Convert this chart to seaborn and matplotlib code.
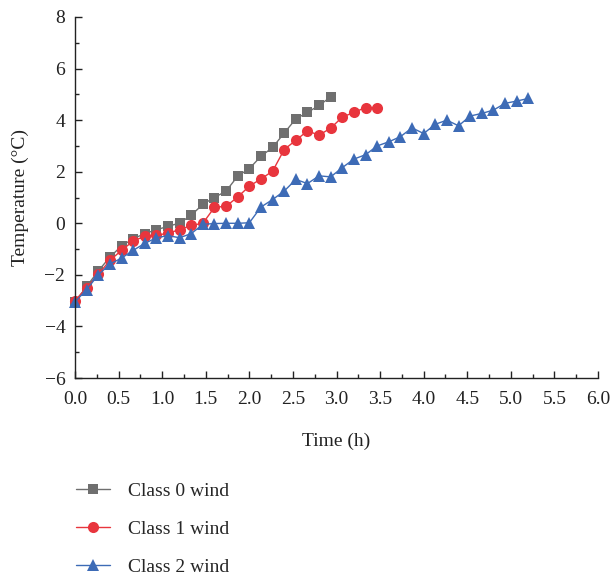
import matplotlib
matplotlib.use("Agg")
import matplotlib.pyplot as plt
from matplotlib.ticker import MultipleLocator, FuncFormatter
import seaborn as sns
import pandas as pd

# Sampling times in minutes (8-min interval) for each wind class
minutes_class0 = [0, 8, 16, 24, 32, 40, 48, 56, 64, 72, 80, 88, 96, 104, 112,
                  120, 128, 136, 144, 152, 160, 168, 176]
minutes_class1 = [0, 8, 16, 24, 32, 40, 48, 56, 64, 72, 80, 88, 96, 104, 112,
                  120, 128, 136, 144, 152, 160, 168, 176, 184, 192, 200, 208]
minutes_class2 = [0, 8, 16, 24, 32, 40, 48, 56, 64, 72, 80, 88, 96, 104, 112,
                  120, 128, 136, 144, 152, 160, 168, 176, 184, 192, 200, 208,
                  216, 224, 232, 240, 248, 256, 264, 272, 280, 288, 296, 304, 312]

# Temperature (°C)
temp_class0 = [-3.05, -2.45, -1.85, -1.31, -0.88, -0.60, -0.40, -0.25, -0.12, 0.01,
               0.31, 0.74, 1.00, 1.25, 1.83, 2.12, 2.60, 2.94, 3.50, 4.05, 4.30,
               4.57, 4.90]
temp_class1 = [-3.00, -2.50, -1.98, -1.44, -1.05, -0.69, -0.50, -0.47, -0.38, -0.25,
               -0.08, 0.00, 0.62, 0.66, 1.02, 1.44, 1.72, 2.02, 2.86, 3.22, 3.58,
               3.42, 3.69, 4.12, 4.30, 4.49, 4.49]
temp_class2 = [-3.05, -2.57, -2.00, -1.58, -1.35, -1.05, -0.78, -0.56, -0.48, -0.56,
               -0.40, -0.04, -0.01, 0.00, 0.00, 0.02, 0.63, 0.92, 1.25, 1.70, 1.54,
               1.84, 1.80, 2.16, 2.49, 2.66, 3.00, 3.16, 3.36, 3.70, 3.48, 3.84,
               4.00, 3.78, 4.16, 4.26, 4.39, 4.65, 4.74, 4.84]

labels = ["Class 0 wind", "Class 1 wind", "Class 2 wind"]
colors = ["#6f6f6f", "#e8353d", "#3d6bb6"]
markers = ["s", "o", "^"]
msizes = [6.5, 8, 8.5]

sns.set_theme(style="ticks")
plt.rcParams["font.family"] = ["Liberation Serif", "DejaVu Serif"]
plt.rcParams["mathtext.fontset"] = "dejavuserif"

FS = 14
INK = "#222222"

fig = plt.figure(figsize=(6.11, 5.78), dpi=100)
ax = fig.add_axes([0.1228, 0.346, 0.8559, 0.6246])

series = [(minutes_class0, temp_class0), (minutes_class1, temp_class1),
          (minutes_class2, temp_class2)]
for (mins, temps), lab, col, mk, ms in zip(series, labels, colors, markers, msizes):
    df = pd.DataFrame({"Time (h)": [m / 60 for m in mins], "Temperature": temps})
    sns.lineplot(data=df, x="Time (h)", y="Temperature", ax=ax, color=col,
                 marker=mk, markersize=ms, markeredgewidth=0, linewidth=1.0,
                 label=lab, clip_on=False)

ax.set_xlim(0, 6)
ax.set_ylim(-6, 8)
ax.xaxis.set_major_locator(MultipleLocator(0.5))
ax.xaxis.set_minor_locator(MultipleLocator(0.25))
ax.xaxis.set_major_formatter(FuncFormatter(lambda v, p: f"{v:.1f}"))
ax.yaxis.set_major_locator(MultipleLocator(2))
ax.yaxis.set_minor_locator(MultipleLocator(1))
ax.yaxis.set_major_formatter(
    FuncFormatter(lambda v, p: f"{int(round(v))}".replace("-", "\u2212")))

sns.despine(ax=ax)
for s in ("left", "bottom"):
    ax.spines[s].set_linewidth(1.0)
    ax.spines[s].set_color(INK)
ax.tick_params(which="major", direction="in", length=5, width=1.0,
               labelsize=FS, colors=INK)
ax.tick_params(axis="x", which="major", pad=9)
ax.tick_params(axis="y", which="major", pad=7)
ax.tick_params(which="minor", direction="in", length=3, width=1.0, colors=INK)

ax.set_xlabel("Time (h)", fontsize=FS, color=INK, labelpad=18)
ax.set_ylabel("Temperature (°C)", fontsize=FS, color=INK, labelpad=11)

handles, labs = ax.get_legend_handles_labels()
ax.get_legend().remove()
fig.legend(handles, labs, loc="upper left", bbox_to_anchor=(0.1236, 0.166),
           frameon=False, fontsize=FS, labelspacing=1.05, handlelength=1.75,
           handletextpad=0.95, borderaxespad=0, borderpad=0)

fig.savefig("out.png", dpi=100)
